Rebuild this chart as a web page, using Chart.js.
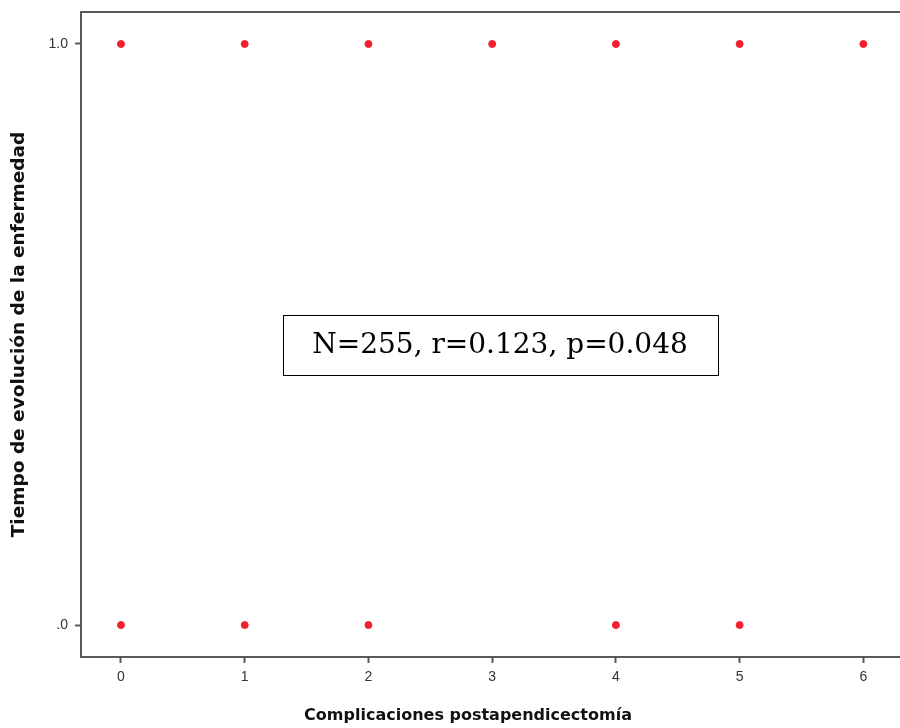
<!DOCTYPE html>
<html>
<head>
<meta charset="utf-8">
<script src="https://cdn.jsdelivr.net/npm/chart.js@4/dist/chart.umd.min.js"></script>
<style>
  html, body { margin: 0; padding: 0; background: #fff; overflow: hidden; }
  #wrap { width: 900px; height: 728px; overflow: hidden; }
</style>
</head>
<body>
<div id="wrap"><canvas id="scatter" width="905" height="728"></canvas></div>
<script>
// values
const complicaciones = [0, 1, 2, 3, 4, 5, 6, 0, 1, 2, 4, 5];
const tiempoEvolucion = [1, 1, 1, 1, 1, 1, 1, 0, 0, 0, 0, 0];
const xTicks = [0, 1, 2, 3, 4, 5, 6];
const yTicks = [0, 1];
const yTickLabels = ['.0', '1.0'];
const statsText = 'N=255, r=0.123, p=0.048';

const axisColor = '#5a5a5a';

// top frame line + stats box + x title
const extras = {
  id: 'extras',
  afterDraw(chart) {
    const ctx = chart.ctx;
    const a = chart.chartArea;
    ctx.save();
    ctx.strokeStyle = axisColor;
    ctx.lineWidth = 2;
    ctx.beginPath();
    ctx.moveTo(a.left - 1, a.top);
    ctx.lineTo(a.right + 10, a.top);
    ctx.stroke();

    // stats box
    const bw = 435, bh = 60;
    const cx = 500, cy = 345;
    ctx.fillStyle = '#fff';
    ctx.fillRect(cx - bw / 2, cy - bh / 2, bw, bh);
    ctx.strokeStyle = '#000';
    ctx.lineWidth = 1;
    ctx.strokeRect(Math.round(cx - bw / 2) + 0.5, Math.round(cy - bh / 2) + 0.5, bw, bh);
    ctx.fillStyle = '#000';
    ctx.font = '28px "DejaVu Serif"';
    ctx.textAlign = 'center';
    ctx.textBaseline = 'middle';
    ctx.fillText(statsText, cx, cy + 1);

    // x axis title
    ctx.font = 'bold 16px "DejaVu Sans"';
    ctx.fillStyle = '#111';
    ctx.fillText('Complicaciones postapendicectomía', 468, 716);
    ctx.restore();
  }
};

new Chart(document.getElementById('scatter'), {
  type: 'scatter',
  data: {
    datasets: [{
      data: complicaciones.map((x, i) => ({ x: x, y: tiempoEvolucion[i] })),
      backgroundColor: '#f2202e',
      borderColor: '#f2202e',
      pointRadius: 3.5,
      pointHoverRadius: 3.5
    }]
  },
  options: {
    responsive: false,
    animation: false,
    layout: { padding: { left: 0, right: 0, top: 12, bottom: 0 } },
    plugins: {
      legend: { display: false },
      tooltip: { enabled: false }
    },
    scales: {
      x: {
        type: 'linear',
        min: -0.323,
        max: 6.3,
        afterBuildTicks: s => { s.ticks = xTicks.map(v => ({ value: v })); },
        afterFit: s => { s.height = 71; s.paddingLeft = 0; s.paddingRight = 0; },
        ticks: {
          color: '#333',
          font: { family: 'Liberation Sans', size: 14 },
          padding: 6
        },
        grid: {
          display: true,
          drawOnChartArea: false,
          drawTicks: true,
          tickLength: 6,
          tickWidth: 2,
          color: axisColor
        },
        border: { display: true, color: axisColor, width: 2 }
      },
      y: {
        type: 'linear',
        min: -0.055,
        max: 1.055,
        afterBuildTicks: s => { s.ticks = yTicks.map(v => ({ value: v })); },
        afterFit: s => { s.width = 81; s.paddingTop = 0; s.paddingBottom = 0; },
        ticks: {
          color: '#333',
          font: { family: 'Liberation Sans', size: 14 },
          padding: 7,
          callback: v => yTickLabels[yTicks.indexOf(v)]
        },
        grid: {
          display: true,
          drawOnChartArea: false,
          drawTicks: true,
          tickLength: 6,
          tickWidth: 2,
          color: axisColor
        },
        border: { display: true, color: axisColor, width: 2 },
        title: {
          display: true,
          text: 'Tiempo de evolución de la enfermedad',
          color: '#111',
          font: { family: 'DejaVu Sans', size: 18.5, weight: 'bold' },
          padding: { top: 8, bottom: 0 }
        }
      }
    }
  },
  plugins: [extras]
});
</script>
</body>
</html>
